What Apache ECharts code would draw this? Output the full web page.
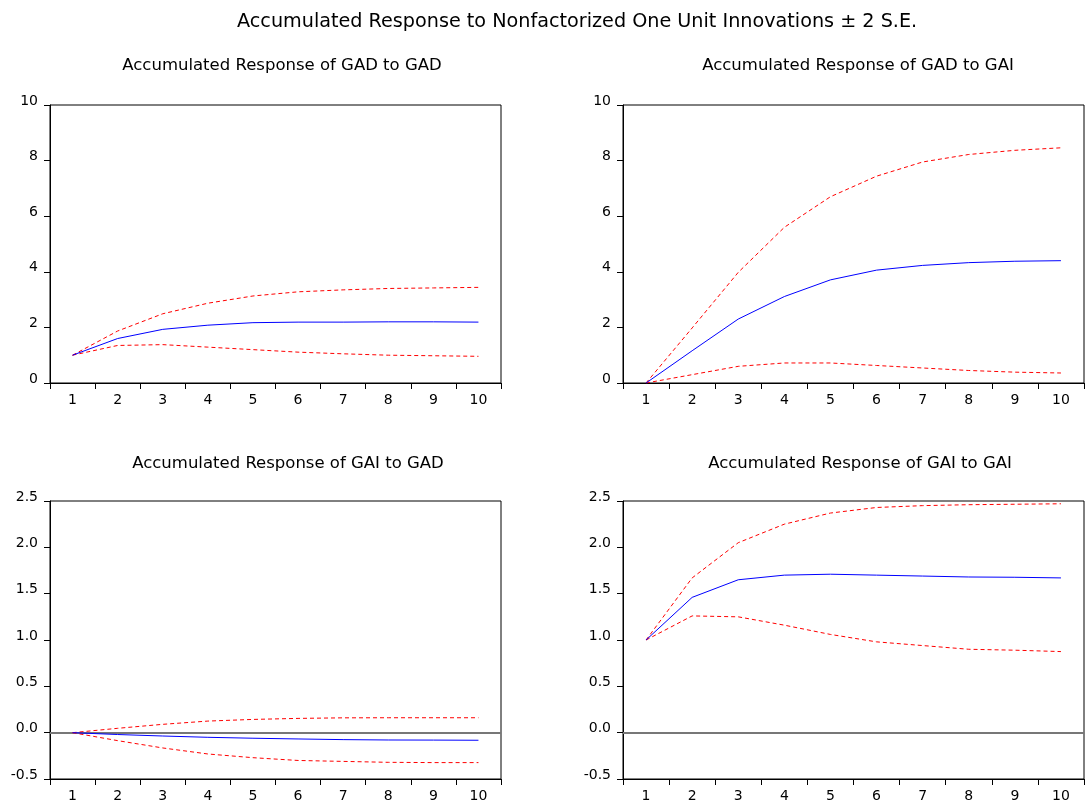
<!DOCTYPE html>
<html>
<head>
<meta charset="utf-8">
<title>Accumulated Response</title>
<script src="https://cdn.jsdelivr.net/npm/echarts@6/dist/echarts.min.js"></script>
<style>
  html, body { margin: 0; padding: 0; background: #fff; }
  #main { width: 1088px; height: 807px; }
</style>
</head>
<body>
<div id="main"></div>
<script>
// 横轴期数
const periods = ['1', '2', '3', '4', '5', '6', '7', '8', '9', '10'];

// GAD 对 GAD
const gadGadResp = [1.0, 1.60, 1.93, 2.08, 2.17, 2.19, 2.19, 2.20, 2.20, 2.19];
const gadGadUpper = [1.0, 1.87, 2.49, 2.87, 3.13, 3.28, 3.35, 3.40, 3.42, 3.44];
const gadGadLower = [1.0, 1.35, 1.38, 1.29, 1.20, 1.11, 1.05, 1.00, 0.98, 0.96];

// GAD 对 GAI
const gadGaiResp = [0.0, 1.16, 2.30, 3.11, 3.71, 4.06, 4.23, 4.33, 4.38, 4.40];
const gadGaiUpper = [0.0, 1.98, 3.98, 5.60, 6.70, 7.44, 7.95, 8.22, 8.37, 8.46];
const gadGaiLower = [0.0, 0.30, 0.60, 0.72, 0.72, 0.63, 0.54, 0.45, 0.39, 0.36];

// GAI 对 GAD
const gaiGadResp = [0.0, -0.02, -0.036, -0.05, -0.06, -0.068, -0.075, -0.079, -0.08, -0.082];
const gaiGadUpper = [0.0, 0.047, 0.09, 0.125, 0.143, 0.154, 0.16, 0.161, 0.161, 0.161];
const gaiGadLower = [0.0, -0.086, -0.165, -0.23, -0.27, -0.30, -0.31, -0.32, -0.323, -0.323];

// GAI 对 GAI
const gaiGaiResp = [1.0, 1.46, 1.65, 1.70, 1.71, 1.70, 1.69, 1.68, 1.677, 1.67];
const gaiGaiUpper = [1.0, 1.67, 2.05, 2.25, 2.37, 2.43, 2.45, 2.46, 2.465, 2.47];
const gaiGaiLower = [1.0, 1.26, 1.25, 1.16, 1.06, 0.98, 0.94, 0.90, 0.89, 0.875];

const panelTitles = [
  'Accumulated Response of GAD to GAD',
  'Accumulated Response of GAD to GAI',
  'Accumulated Response of GAI to GAD',
  'Accumulated Response of GAI to GAI'
];

const font = 'DejaVu Sans, Liberation Sans, Arial, sans-serif';

const grids = [
  { left: 50, top: 105, width: 451, height: 278 },
  { left: 623, top: 105, width: 461, height: 278 },
  { left: 50, top: 501, width: 451, height: 278 },
  { left: 623, top: 501, width: 461, height: 278 }
];
// 小标题中心位置
const titleCenters = [277, 853, 283, 855];

const panels = [
  [gadGadResp, gadGadUpper, gadGadLower],
  [gadGaiResp, gadGaiUpper, gadGaiLower],
  [gaiGadResp, gaiGadUpper, gaiGadLower],
  [gaiGaiResp, gaiGaiUpper, gaiGaiLower]
];

const chart = echarts.init(document.getElementById('main'));

let titles = [{
  text: 'Accumulated Response to Nonfactorized One Unit Innovations \u00b1 2 S.E.',
  left: 232,
  top: 8,
  textStyle: { fontFamily: font, fontSize: 19.2, fontWeight: 'normal', color: '#000' }
}];
panelTitles.forEach((t, i) => {
  titles.push({
    text: t,
    left: titleCenters[i],
    textAlign: 'center',
    top: i < 2 ? 52 : 450,
    textStyle: { fontFamily: font, fontSize: 16.5, fontWeight: 'normal', color: '#000' }
  });
});

let xAxes = [], yAxes = [], series = [];
grids.forEach((g, i) => {
  xAxes.push({
    type: 'category',
    gridIndex: i,
    data: periods,
    boundaryGap: true,
    axisLine: { onZero: false, lineStyle: { color: '#000', width: 1 } },
    axisTick: { show: true, interval: 0, length: 6, lineStyle: { color: '#000' } },
    axisLabel: { interval: 0, color: '#000', fontFamily: font, fontSize: 14, margin: 10 }
  });
  let top = i < 2;
  yAxes.push({
    type: 'value',
    gridIndex: i,
    min: top ? 0 : -0.5,
    max: top ? 10 : 2.5,
    interval: top ? 2 : 0.5,
    splitLine: { show: false },
    axisLine: { show: true, lineStyle: { color: '#000', width: 1 } },
    axisTick: { show: true, length: 6, lineStyle: { color: '#000' } },
    axisLabel: {
      color: '#000', fontFamily: font, fontSize: 14, margin: 12,
      verticalAlign: 'bottom', lineHeight: 8,
      formatter: v => top ? String(v) : v.toFixed(1)
    }
  });
  let [resp, upper, lower] = panels[i];
  let blue = {
    type: 'line', xAxisIndex: i, yAxisIndex: i, data: resp,
    symbol: 'none', silent: true,
    lineStyle: { color: '#0000ff', width: 1 },
    z: 3
  };
  if (!top) {
    // 零线
    blue.markLine = {
      silent: true, symbol: 'none', label: { show: false },
      lineStyle: { color: '#777', type: 'solid', width: 1.8 },
      data: [{ yAxis: 0 }],
      z: 1
    };
  }
  series.push(blue);
  [upper, lower].forEach(d => {
    series.push({
      type: 'line', xAxisIndex: i, yAxisIndex: i, data: d,
      symbol: 'none', silent: true,
      lineStyle: { color: '#ff0000', width: 1, type: [4, 3] },
      z: 2
    });
  });
});

chart.setOption({
  animation: false,
  backgroundColor: '#fff',
  title: titles,
  grid: grids.map(g => Object.assign({ show: true, borderColor: '#000', borderWidth: 1, backgroundColor: 'transparent' }, g)),
  xAxis: xAxes,
  yAxis: yAxes,
  series: series
});
</script>
</body>
</html>
